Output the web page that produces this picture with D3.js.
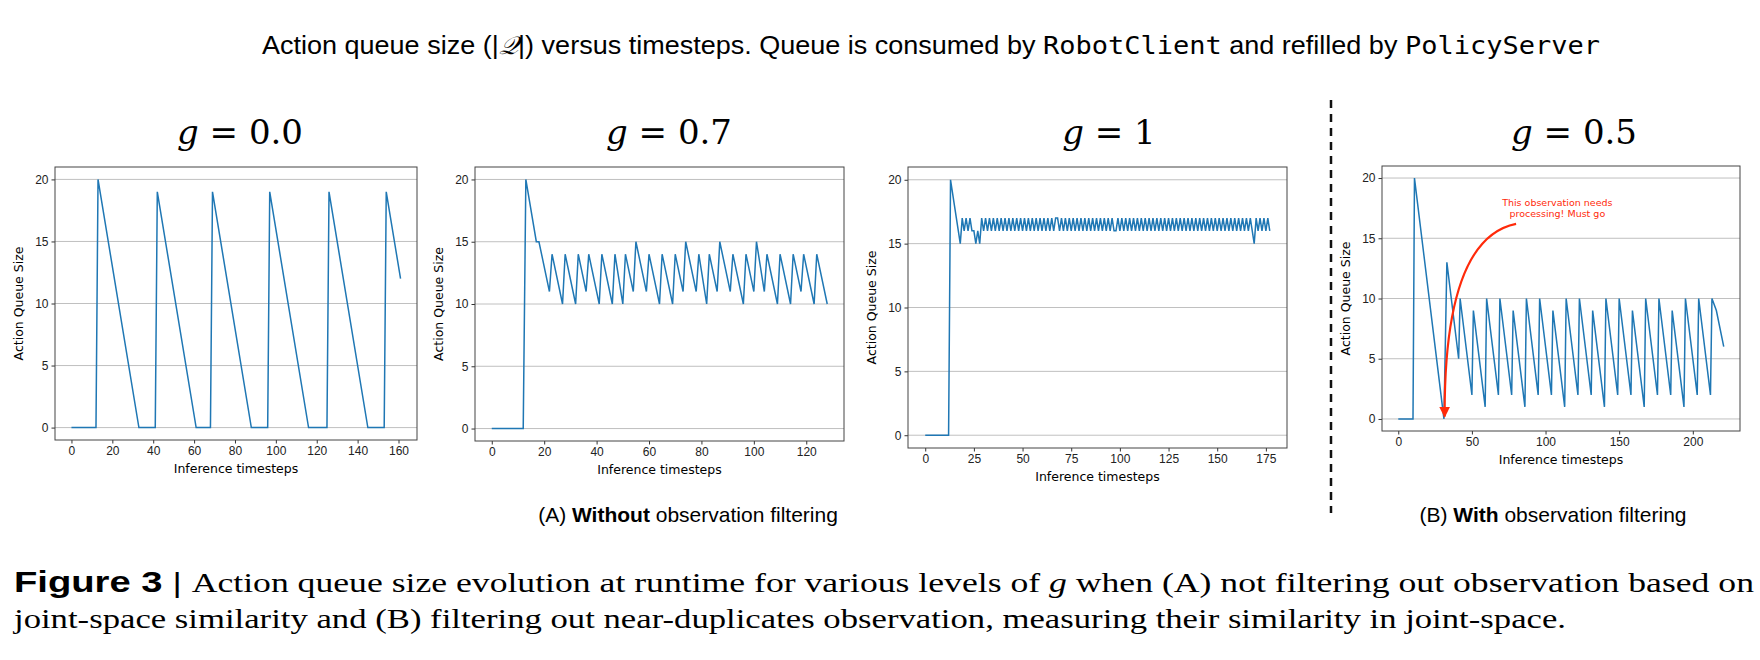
<!DOCTYPE html>
<html><head><meta charset="utf-8">
<script src="https://cdn.jsdelivr.net/npm/d3@7"></script>
<style>body{margin:0;background:#fff}</style>
</head><body><div id="chart"></div>
<script>
// panel values (vertices of each polyline)
const g0X = [0,12,13,33,41,42,61,68,69,88,96,97,116,125,126,145,153,154,161];
const g0Y = [0,0,20,0,0,19,0,0,19,0,0,19,0,0,19,0,0,19,12];

const g07X = [0,12,13,17,18,22,23,27,28,32, 33,36,37,41,42,46,47,50,51,54, 55,59,60,64,65,69,70,73,74,78,
  79,82,83,86,87,91,92,96,97,100, 101,104,105,109,110,114,115,118,119,123, 124,128];
const g07Y = [0,0,20,15,15,11,14,10,14,10, 14,11,14,10,14,10,14,10,14,11, 15,11,14,10,14,10,14,11,15,11,
  14,10,14,11,15,11,14,10,14,11, 15,11,14,10,14,10,14,11,14,10, 14,10];

const g1Y = [0,0,0,0,0,0,0,0,0,0,0,0,0,20,19,18,17,16,15,17,16,17,16,17,16,16,15,16,15,17,
  16,17,16,17,16,17,16,17,16,17,16,17,16,17,16,17,16,17,16,17,16,17,16,17,16,17,16,17,16,17,
  16,17,16,17,16,17,16,17,17,16,17,16,17,16,17,16,17,16,17,16,17,16,17,16,17,16,17,16,17,16,
  17,16,17,16,17,16,17,16,16,17,16,17,16,17,16,17,16,17,16,17,16,17,16,17,16,17,16,17,16,17,
  16,17,16,17,16,17,16,17,16,17,16,17,16,17,16,17,16,17,16,17,16,17,16,17,16,17,16,17,16,17,
  16,17,16,17,16,17,16,17,16,17,16,17,16,17,16,
  17,16,17,16,15,17,16,17,16,17,16,17,16];

const g05X = [0,10,11,31,33,41,42,50,51,59,60,68,69,77,78,86,87,95,96,104,105,113,114,122,123,131,132,140,141,149,150,158,159,167,168,176,177,185,186,194,195,203,204,212,213,216,221];
const g05Y = [0,0,20,0,13,5,10,2,9,1,10,2,10,2,9,1,10,2,10,2,9,1,10,2,10,2,9,1,10,2,10,2,9,1,10,2,10,2,9,1,10,2,10,2,10,9,6];

const yTicks = [0,5,10,15,20];
const panels = [
  {title:"0.0", xs:g0X, ys:g0Y, ticks:[0,20,40,60,80,100,120,140,160], left:55, right:417, top:167, bottom:440, cx:240},
  {title:"0.7", xs:g07X, ys:g07Y, ticks:[0,20,40,60,80,100,120], left:475, right:844, top:167, bottom:441, cx:669},
  {title:"1", xs:g1Y.map((d,i)=>i), ys:g1Y, ticks:[0,25,50,75,100,125,150,175], left:908, right:1287, top:167, bottom:448, cx:1109},
  {title:"0.5", xs:g05X, ys:g05Y, ticks:[0,50,100,150,200], left:1382, right:1740, top:166, bottom:431, cx:1574}
];

const svg = d3.select("#chart").append("svg").attr("width",1760).attr("height",660)
  .style("font-family","'DejaVu Sans',sans-serif");

// top title
const t = svg.append("text").attr("x",262).attr("y",54)
  .attr("font-size",25).attr("font-family","'Liberation Sans',Arial,sans-serif")
  .attr("textLength",1338).attr("lengthAdjust","spacingAndGlyphs");
t.append("tspan").text("Action queue size (|");
t.append("tspan").attr("font-family","'DejaVu Serif',serif").attr("font-style","italic").text("𝒬");
t.append("tspan").text("|) versus timesteps. Queue is consumed by ");
t.append("tspan").attr("font-family","'DejaVu Sans Mono',monospace").text("RobotClient");
t.append("tspan").text(" and refilled by ");
t.append("tspan").attr("font-family","'DejaVu Sans Mono',monospace").text("PolicyServer");

let p4x, p4y;
panels.forEach((p, k) => {
  const xMax = d3.max(p.xs);
  const x = d3.scaleLinear().domain([-0.05*xMax, 1.05*xMax]).range([p.left, p.right]);
  const y = d3.scaleLinear().domain([-1, 21]).range([p.bottom, p.top]);
  if (k === 3) { p4x = x; p4y = y; }
  const g = svg.append("g");

  g.append("g").selectAll("line").data(yTicks).join("line")
    .attr("x1",p.left).attr("x2",p.right).attr("y1",d=>y(d)).attr("y2",d=>y(d))
    .attr("stroke","#b0b0b0").attr("stroke-width",0.8);

  const ya = g.append("g").attr("transform",`translate(${p.left},0)`)
    .call(d3.axisLeft(y).tickValues(yTicks).tickSize(3.5).tickPadding(3));
  const xa = g.append("g").attr("transform",`translate(0,${p.bottom})`)
    .call(d3.axisBottom(x).tickValues(p.ticks).tickSize(3.5).tickPadding(3));
  [ya, xa].forEach(a => { a.select(".domain").remove(); a.selectAll("text").attr("font-size",12).attr("fill","#222"); a.selectAll("line").attr("stroke","#333"); });

  g.append("rect").attr("x",p.left).attr("y",p.top).attr("width",p.right-p.left).attr("height",p.bottom-p.top)
    .attr("fill","none").attr("stroke","#444").attr("stroke-width",1);

  g.append("path").datum(p.xs.map((d,i)=>[d,p.ys[i]]))
    .attr("d", d3.line().x(d=>x(d[0])).y(d=>y(d[1])))
    .attr("fill","none").attr("stroke","#1f77b4").attr("stroke-width",1.5);

  g.append("text").attr("transform",`translate(${p.left-32},${(p.top+p.bottom)/2}) rotate(-90)`)
    .attr("text-anchor","middle").attr("font-size",12.5).text("Action Queue Size");
  g.append("text").attr("x",(p.left+p.right)/2).attr("y",p.bottom+33).attr("text-anchor","middle")
    .attr("font-size",12.5).text("Inference timesteps");

  const tt = g.append("text").attr("x",p.cx).attr("y",144).attr("text-anchor","middle")
    .attr("font-size",34).attr("font-family","'DejaVu Serif',serif");
  tt.append("tspan").attr("font-style","italic").text("g");
  tt.append("tspan").text(" = " + p.title);
});

// annotation in panel 4
const red = "#ff2a0a";
svg.append("defs").append("marker").attr("id","ah").attr("viewBox","0 0 10 10")
  .attr("refX",9).attr("refY",5).attr("markerWidth",5).attr("markerHeight",5).attr("orient","auto")
  .append("path").attr("d","M0,0 L10,5 L0,10 z").attr("fill",red);
const sx = p4x(80), sy = p4y(16.2), ex = p4x(31.5), ey = p4y(0.2);
svg.append("path").attr("d",`M${sx},${sy} Q${p4x(31)},${p4y(15)} ${ex},${ey}`)
  .attr("fill","none").attr("stroke",red).attr("stroke-width",2.2).attr("marker-end","url(#ah)");
[["This observation needs",p4y(17.7)],["processing! Must go",p4y(16.8)]].forEach(([s,yy]) =>
  svg.append("text").attr("x",p4x(108)).attr("y",yy).attr("text-anchor","middle")
    .attr("font-size",9.5).attr("fill",red).text(s));

// divider
svg.append("line").attr("x1",1331).attr("x2",1331).attr("y1",100).attr("y2",513)
  .attr("stroke","#111").attr("stroke-width",2.5).attr("stroke-dasharray","8,6");

// sub captions
const sub = (x0, bold, rest, lead) => {
  const s = svg.append("text").attr("x",x0).attr("y",522).attr("text-anchor","middle")
    .attr("font-size",21).attr("font-family","'Liberation Sans',Arial,sans-serif");
  s.append("tspan").text(lead);
  s.append("tspan").attr("font-weight","bold").text(bold);
  s.append("tspan").text(rest);
};
sub(688, "Without", " observation filtering", "(A) ");
sub(1553, "With", " observation filtering", "(B) ");

// figure caption
const c1 = svg.append("text").attr("x",14).attr("y",592).attr("font-size",28)
  .attr("font-family","'Liberation Serif',serif")
  .attr("textLength",1740).attr("lengthAdjust","spacingAndGlyphs");
c1.append("tspan").attr("font-family","'Liberation Sans',Arial,sans-serif").attr("font-weight","bold").attr("font-size",30).text("Figure 3");
c1.append("tspan").attr("font-family","'Liberation Sans',Arial,sans-serif").text("  |  ");
c1.append("tspan").text("Action queue size evolution at runtime for various levels of ");
c1.append("tspan").attr("font-style","italic").text("g");
c1.append("tspan").text(" when (A) not filtering out observation based on");
svg.append("text").attr("x",14).attr("y",628).attr("font-size",28).attr("font-family","'Liberation Serif',serif")
  .attr("textLength",1552).attr("lengthAdjust","spacingAndGlyphs")
  .text("joint-space similarity and (B) filtering out near-duplicates observation, measuring their similarity in joint-space.");
</script></body></html>
